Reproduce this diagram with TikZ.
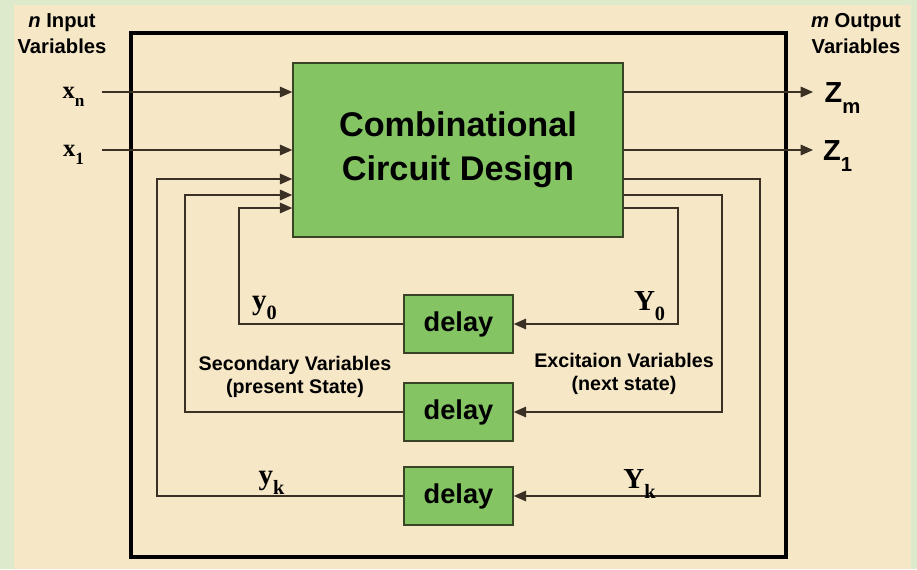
\documentclass[tikz,border=0pt]{standalone}
\usepackage{fontspec}
\setmainfont{Liberation Serif}
\setsansfont{Liberation Sans}
\usetikzlibrary{arrows.meta,calc}
\definecolor{FrameClr}{RGB}{222,234,204}
\definecolor{PaperClr}{RGB}{246,231,199}
\definecolor{BoxClr}{RGB}{133,196,99}
\definecolor{BoxLineClr}{RGB}{55,68,38}
\definecolor{WireClr}{RGB}{58,48,36}
\newcommand{\lsub}[1]{\raisebox{-.4ex}{\textsubscript{#1}}}

\tikzset{
  blk/.style={draw=BoxLineClr,line width=0.9pt,fill=BoxClr,inner sep=0pt,
    font=\sffamily\bfseries\fontsize{15.5}{17}\selectfont},
  wire/.style={draw=WireClr,line width=0.8pt},
  arr/.style={wire,-{Triangle[length=7pt,width=6pt]}},
  txt/.style={align=center,font=\sffamily\bfseries\fontsize{11.2}{13.2}\selectfont},
  iolbl/.style={align=center,font=\sffamily\bfseries\fontsize{11.5}{14.8}\selectfont},
  svar/.style={font=\bfseries\fontsize{14}{16}\selectfont},
  bvar/.style={font=\bfseries\fontsize{16.5}{18}\selectfont},
  zvar/.style={font=\sffamily\bfseries\fontsize{16.5}{18}\selectfont},
}

\begin{document}
\begin{tikzpicture}[x=0.02cm,y=-0.02cm]
% paper
\fill[FrameClr] (0,0) rectangle (917,569);
\fill[PaperClr] (14,5) rectangle (911,569);
\draw[line width=2.3pt] (131,33) rectangle (786,557);

% blocks
\node[blk,minimum width=6.6cm,minimum height=3.48cm,align=center,
  font=\sffamily\bfseries\fontsize{19.5}{25}\selectfont] (comb) at (458,150)
  {Combinational\\Circuit Design};
\node[blk,minimum width=2.18cm,minimum height=1.16cm] (d0) at (458.5,324) {delay};
\node[blk,minimum width=2.18cm,minimum height=1.16cm] (d1) at (458.5,412) {delay};
\node[blk,minimum width=2.18cm,minimum height=1.16cm] (dk) at (458.5,496) {delay};

% free ends and turning points
\coordinate (xn) at (102,92);
\coordinate (x1) at (102,150);
\coordinate (zm) at (813,92);
\coordinate (z1) at (813,150);
\coordinate (r0) at (678,208);
\coordinate (r1) at (722,195);
\coordinate (rk) at (760,179);
\coordinate (l0) at (239,208);
\coordinate (l1) at (185,195);
\coordinate (lk) at (157,179);

% inputs and outputs
\draw[arr] (xn) -- (xn -| comb.west);
\draw[arr] (x1) -- (x1 -| comb.west);
\draw[arr] (zm -| comb.east) -- (zm);
\draw[arr] (z1 -| comb.east) -- (z1);

% feedback through the delays
\draw[arr] (r0 -| comb.east) -- (r0) |- (d0.east);
\draw[arr] (d0.west) -| (l0) -- (l0 -| comb.west);
\draw[arr] (r1 -| comb.east) -- (r1) |- (d1.east);
\draw[arr] (d1.west) -| (l1) -- (l1 -| comb.west);
\draw[arr] (rk -| comb.east) -- (rk) |- (dk.east);
\draw[arr] (dk.west) -| (lk) -- (lk -| comb.west);

% labels
\node[iolbl] (inlbl) at (62,34) {\textit{n} Input\\Variables};
\node[iolbl] (outlbl) at (856,34) {\textit{m} Output\\Variables};
\node[svar] (xnlbl) at (74,97) {x\lsub{n}};
\node[svar] (x1lbl) at (74,155) {x\lsub{1}};
\node[zvar] (zmlbl) at (843,98) {Z\lsub{m}};
\node[zvar] (z1lbl) at (838,156) {Z\lsub{1}};
\node[bvar] (y0lbl) at (265,308) {y\lsub{0}};
\node[bvar] (Y0lbl) at (650,306) {Y\lsub{0}};
\node[bvar] (yklbl) at (272,483) {y\lsub{k}};
\node[bvar] (Yklbl) at (640,484) {Y\lsub{k}};
\node[txt] (seclbl) at (295,377) {Secondary Variables\\(present State)};
\node[txt] (exclbl) at (624,374) {Excitaion Variables\\(next state)};

\end{tikzpicture}
\end{document}
